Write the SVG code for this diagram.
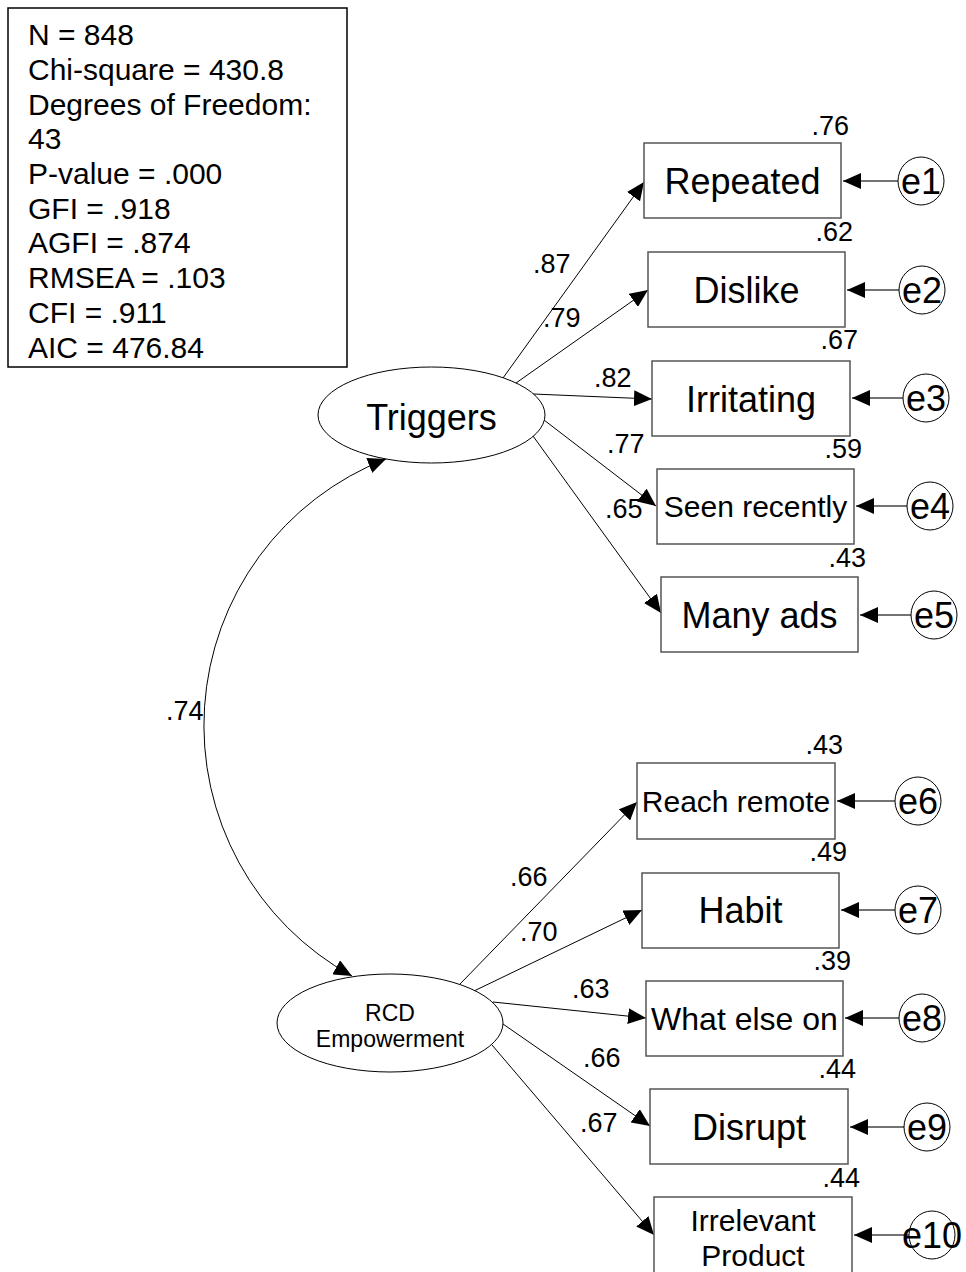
<svg xmlns="http://www.w3.org/2000/svg" width="966" height="1272" viewBox="0 0 966 1272">
<defs>
<marker id="ah" markerUnits="userSpaceOnUse" markerWidth="18" markerHeight="16" viewBox="0 0 18 16" refX="18" refY="8" orient="auto-start-reverse">
<path d="M0,0 L18,8 L0,16 Z" fill="#000"/>
</marker>
</defs>
<style>
text{font-family:"Liberation Sans",Arial,sans-serif;fill:#000}
.st{font-size:30px}
.lb{font-size:36px;text-anchor:middle}
.lm{font-size:30px;text-anchor:middle}
.num{font-size:27px}
.r2{font-size:27px;text-anchor:end}
.box{fill:#fff;stroke:#555;stroke-width:1.5}
.lat{fill:#fff;stroke:#000;stroke-width:1}
.err{fill:#fff;stroke:#000;stroke-width:1}
.ln{stroke:#000;stroke-width:1;fill:none;marker-end:url(#ah)}
.rl{stroke:#444;stroke-width:1.3;fill:none;marker-end:url(#ah)}
</style>
<rect width="966" height="1272" fill="#fff"/>

<g id="stats">
<rect x="8" y="8" width="339" height="359" fill="#fff" stroke="#000" stroke-width="1.5"/>
<text class="st" x="28" y="45">N = 848</text>
<text class="st" x="28" y="80">Chi-square = 430.8</text>
<text class="st" x="28" y="115">Degrees of Freedom:</text>
<text class="st" x="28" y="149">43</text>
<text class="st" x="28" y="184">P-value = .000</text>
<text class="st" x="28" y="219">GFI = .918</text>
<text class="st" x="28" y="253">AGFI = .874</text>
<text class="st" x="28" y="288">RMSEA = .103</text>
<text class="st" x="28" y="323">CFI = .911</text>
<text class="st" x="28" y="358">AIC = 476.84</text>
</g>

<g id="connectors">
<path class="ln" d="M386,459 A286,286 0 0 0 352,976" marker-start="url(#ah)"/>
<line class="ln" x1="503" y1="378" x2="644" y2="182"/>
<line class="ln" x1="516" y1="383" x2="648" y2="290"/>
<line class="ln" x1="533" y1="394" x2="652" y2="399"/>
<line class="ln" x1="544" y1="420" x2="656" y2="506"/>
<line class="ln" x1="533" y1="436" x2="661" y2="613"/>
<line class="ln" x1="460" y1="984" x2="637" y2="802"/>
<line class="ln" x1="474" y1="991" x2="642" y2="910"/>
<line class="ln" x1="493" y1="1002" x2="646" y2="1018"/>
<line class="ln" x1="503" y1="1024" x2="650" y2="1126"/>
<line class="ln" x1="492" y1="1045" x2="654" y2="1235"/>
<line class="rl" x1="898" y1="181" x2="843" y2="181"/>
<line class="rl" x1="899" y1="290" x2="847" y2="290"/>
<line class="rl" x1="903" y1="398" x2="852" y2="398"/>
<line class="rl" x1="907" y1="506" x2="856" y2="506"/>
<line class="rl" x1="911" y1="615" x2="860" y2="615"/>
<line class="rl" x1="895" y1="801" x2="837" y2="801"/>
<line class="rl" x1="895" y1="910" x2="841" y2="910"/>
<line class="rl" x1="899" y1="1018" x2="845" y2="1018"/>
<line class="rl" x1="904" y1="1127" x2="850" y2="1127"/>
<line class="rl" x1="909" y1="1235" x2="854" y2="1235"/>
<text class="num" x="166" y="720">.74</text>
<text class="num" x="533" y="273">.87</text>
<text class="num" x="543" y="327">.79</text>
<text class="num" x="594" y="387">.82</text>
<text class="num" x="607" y="453">.77</text>
<text class="num" x="605" y="518">.65</text>
<text class="num" x="510" y="886">.66</text>
<text class="num" x="520" y="941">.70</text>
<text class="num" x="572" y="998">.63</text>
<text class="num" x="583" y="1067">.66</text>
<text class="num" x="580" y="1132">.67</text>
</g>

<g id="Triggers">
<ellipse class="lat" cx="431.5" cy="415" rx="113.5" ry="48"/>
<text class="lb" x="431.5" y="430">Triggers</text>
</g>
<g id="RCD">
<ellipse class="lat" cx="390" cy="1023" rx="113" ry="49"/>
<text x="390" y="1021" font-size="23" text-anchor="middle">RCD</text>
<text x="390" y="1047" font-size="23" text-anchor="middle">Empowerment</text>
</g>

<g id="Repeated">
<rect class="box" x="644" y="143" width="197" height="75"/>
<text class="lb" x="742.5" y="194">Repeated</text>
<text class="r2" x="849" y="135">.76</text>
</g>
<g id="Dislike">
<rect class="box" x="648" y="252" width="197" height="75"/>
<text class="lb" x="746.5" y="303">Dislike</text>
<text class="r2" x="853" y="241">.62</text>
</g>
<g id="Irritating">
<rect class="box" x="652" y="361" width="198" height="75"/>
<text class="lb" x="751" y="412">Irritating</text>
<text class="r2" x="858" y="349">.67</text>
</g>
<g id="Seen">
<rect class="box" x="657" y="469" width="197" height="75"/>
<text class="lm" x="755.5" y="517">Seen recently</text>
<text class="r2" x="862" y="458">.59</text>
</g>
<g id="Many">
<rect class="box" x="661" y="577" width="197" height="75"/>
<text class="lb" x="759.5" y="628">Many ads</text>
<text class="r2" x="866" y="567">.43</text>
</g>
<g id="Reach">
<rect class="box" x="637" y="763" width="198" height="76"/>
<text class="lm" x="736" y="812">Reach remote</text>
<text class="r2" x="843" y="754">.43</text>
</g>
<g id="Habit">
<rect class="box" x="642" y="873" width="197" height="75"/>
<text class="lb" x="740.5" y="923">Habit</text>
<text class="r2" x="847" y="861">.49</text>
</g>
<g id="WhatElse">
<rect class="box" x="646" y="981" width="197" height="75"/>
<text x="744.5" y="1030" font-size="32" text-anchor="middle">What else on</text>
<text class="r2" x="851" y="970">.39</text>
</g>
<g id="Disrupt">
<rect class="box" x="650" y="1089" width="198" height="75"/>
<text class="lb" x="749" y="1140">Disrupt</text>
<text class="r2" x="856" y="1078">.44</text>
</g>
<g id="Irrelevant">
<rect class="box" x="654" y="1197" width="198" height="85"/>
<text x="753" y="1231" font-size="30" text-anchor="middle">Irrelevant</text>
<text x="753" y="1266" font-size="30" text-anchor="middle">Product</text>
<text class="r2" x="860" y="1187">.44</text>
</g>

<g id="e1"><ellipse class="err" cx="921" cy="181" rx="23" ry="24"/><text class="lb" x="921" y="194">e1</text></g>
<g id="e2"><ellipse class="err" cx="922" cy="290" rx="23" ry="24"/><text class="lb" x="922" y="303">e2</text></g>
<g id="e3"><ellipse class="err" cx="926" cy="398" rx="23" ry="24"/><text class="lb" x="926" y="411">e3</text></g>
<g id="e4"><ellipse class="err" cx="930" cy="506" rx="23" ry="24"/><text class="lb" x="930" y="519">e4</text></g>
<g id="e5"><ellipse class="err" cx="934" cy="615" rx="23" ry="24"/><text class="lb" x="934" y="628">e5</text></g>
<g id="e6"><ellipse class="err" cx="918" cy="801" rx="23" ry="24"/><text class="lb" x="918" y="814">e6</text></g>
<g id="e7"><ellipse class="err" cx="918" cy="910" rx="23" ry="24"/><text class="lb" x="918" y="923">e7</text></g>
<g id="e8"><ellipse class="err" cx="922" cy="1018" rx="23" ry="24"/><text class="lb" x="922" y="1031">e8</text></g>
<g id="e9"><ellipse class="err" cx="927" cy="1127" rx="23" ry="24"/><text class="lb" x="927" y="1140">e9</text></g>
<g id="e10"><ellipse class="err" cx="932" cy="1235" rx="23" ry="24"/><text class="lb" x="932" y="1248">e10</text></g>
</svg>
